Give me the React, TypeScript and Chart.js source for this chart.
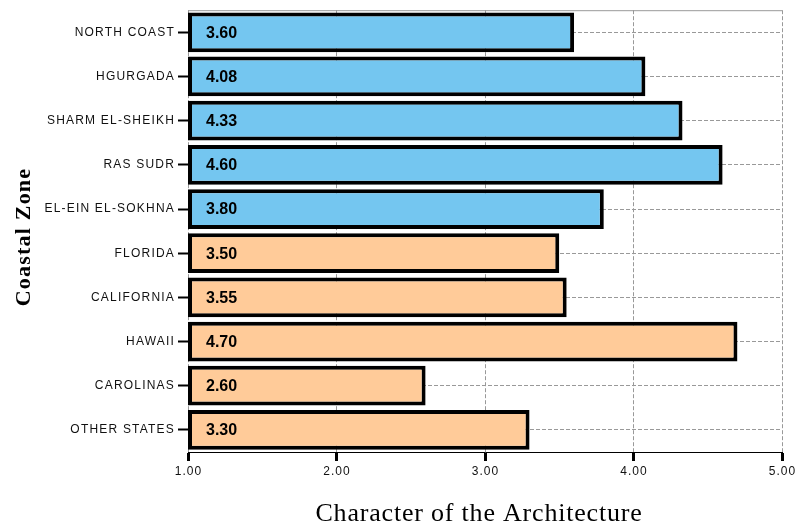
import React, { useEffect, useRef } from "react";
import { Chart, registerables } from "chart.js";

Chart.register(...registerables);

const categories = [
  "NORTH COAST",
  "HGURGADA",
  "SHARM EL-SHEIKH",
  "RAS SUDR",
  "EL-EIN EL-SOKHNA",
  "FLORIDA",
  "CALIFORNIA",
  "HAWAII",
  "CAROLINAS",
  "OTHER STATES",
];
const values = [3.6, 4.08, 4.33, 4.6, 3.8, 3.5, 3.55, 4.7, 2.6, 3.3];
const groups = ["egypt", "egypt", "egypt", "egypt", "egypt", "us", "us", "us", "us", "us"];
const axisMin = 1;
const axisMax = 5;
const xTitle = "Character of the Architecture";
const yTitle = "Coastal Zone";

const BLUE = "#74C6F0";
const ORANGE = "#FFCB99";

export default function App() {
  const ref = useRef<HTMLCanvasElement>(null);

  useEffect(() => {
    const canvas = ref.current!;
    const plugin = {
      id: "custom",
      beforeDraw(chart: any) {
        const ctx = chart.ctx;
        ctx.save();
        ctx.fillStyle = "#ffffff";
        ctx.fillRect(0, 0, chart.width, chart.height);
        ctx.restore();
        ctx.letterSpacing = "1.2px";
      },
      beforeDatasetsDraw(chart: any) {
        const ctx = chart.ctx;
        ctx.letterSpacing = "0px";
        const a = chart.chartArea;
        ctx.save();
        ctx.strokeStyle = "#999999";
        ctx.lineWidth = 1;
        ctx.beginPath();
        ctx.moveTo(a.left, a.top + 0.5);
        ctx.lineTo(a.right, a.top + 0.5);
        ctx.stroke();
        ctx.restore();
      },
      afterDatasetsDraw(chart: any) {
        const ctx = chart.ctx;
        const a = chart.chartArea;
        const meta = chart.getDatasetMeta(0);
        ctx.save();
        ctx.letterSpacing = "0px";
        ctx.font = "bold 16px 'Liberation Sans', Arial, sans-serif";
        ctx.fillStyle = "#000000";
        ctx.textAlign = "left";
        ctx.textBaseline = "middle";
        meta.data.forEach((el: any, i: number) => {
          ctx.fillText(values[i].toFixed(2), a.left + 18, el.y + 1);
        });
        ctx.restore();
      },
      afterDraw(chart: any) {
        const ctx = chart.ctx;
        const xs = chart.scales.x;
        ctx.save();
        // x tick labels
        ctx.fillStyle = "#111111";
        ctx.letterSpacing = "1px";
        ctx.font = "12px 'Liberation Sans', Arial, sans-serif";
        ctx.textAlign = "center";
        ctx.textBaseline = "middle";
        xs.ticks.forEach((t: any) => {
          ctx.fillText(Number(t.value).toFixed(2), xs.getPixelForValue(t.value) + 0.5, 472);
        });
        // titles
        ctx.fillStyle = "#000000";
        ctx.textAlign = "center";
        ctx.textBaseline = "alphabetic";
        ctx.letterSpacing = "0.8px";
        ctx.font = "26px 'Liberation Serif', 'Times New Roman', serif";
        ctx.fillText(xTitle, 479, 521);
        ctx.translate(24, 237);
        ctx.rotate(-Math.PI / 2);
        ctx.textBaseline = "middle";
        ctx.letterSpacing = "1.2px";
        ctx.font = "bold 22px 'Liberation Serif', 'Times New Roman', serif";
        ctx.fillText(yTitle, 0, 0);
        ctx.restore();
      },
    };

    const chart = new Chart(canvas, {
      type: "bar",
      data: {
        labels: categories,
        datasets: [
          {
            data: values.map((v) => [axisMin, v]) as any,
            backgroundColor: groups.map((g) => (g === "egypt" ? BLUE : ORANGE)),
            borderColor: "#000000",
            borderWidth: 4,
            borderSkipped: false,
            categoryPercentage: 1,
            barPercentage: 0.9,
          },
        ],
      },
      options: {
        indexAxis: "y",
        animation: false,
        responsive: false,
        maintainAspectRatio: false,
        events: [],
        layout: { autoPadding: false, padding: { left: 0, top: 8, right: 14, bottom: 0 } },
        plugins: {
          legend: { display: false },
          tooltip: { enabled: false },
          title: { display: false },
        },
        scales: {
          x: {
            type: "linear",
            min: axisMin,
            max: axisMax,
            afterFit(scale: any) {
              scale.height = 77;
            },
            ticks: {
              stepSize: 1,
              display: false,
            },
            grid: {
              color: "#999999",
              lineWidth: 1,
              tickColor: "#000000",
              tickWidth: 3,
              tickLength: 9,
            },
            border: { display: true, color: "#000000", width: 1, dash: [4, 2] },
          },
          y: {
            type: "category",
            offset: true,
            afterFit(scale: any) {
              scale.width = 188;
            },
            ticks: {
              color: "#111111",
              font: { family: "'Liberation Sans', Arial, sans-serif", size: 12 },
              padding: 3,
              autoSkip: false,
            },
            grid: {
              offset: false,
              color: "#999999",
              lineWidth: 1,
              tickColor: "#000000",
              tickWidth: 2,
              tickLength: 10,
            },
            border: { display: false, dash: [4, 2] },
          },
        },
      },
      plugins: [plugin],
    } as any);
    return () => chart.destroy();
  }, []);

  return (
    <div style={{ position: "absolute", left: 0, top: 0, width: 796, height: 529 }}>
      <canvas ref={ref} width={796} height={529} />
    </div>
  );
}
